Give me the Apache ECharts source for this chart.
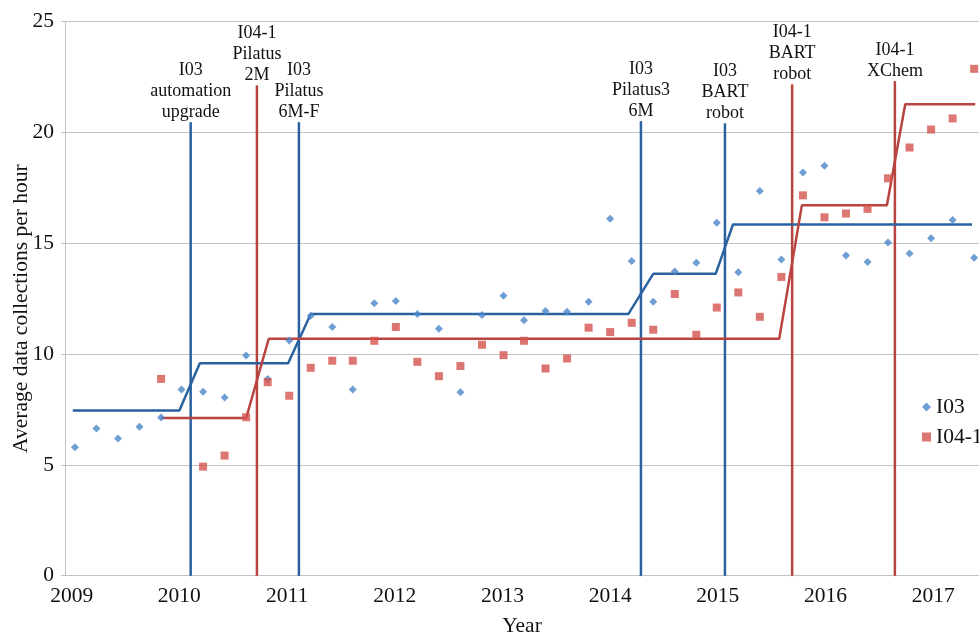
<!DOCTYPE html>
<html>
<head>
<meta charset="utf-8">
<script src="https://cdn.jsdelivr.net/npm/echarts@6/dist/echarts.min.js"></script>
<style>
  html, body { margin: 0; padding: 0; background: #fff; }
  #chart { width: 979px; height: 634px; }
</style>
</head>
<body>
<div id="chart"></div>
<script>
// Decimal-year date of each run (five runs per year)
const runDates = [
  2009.03, 2009.23, 2009.43, 2009.63, 2009.83,
  2010.02, 2010.22, 2010.42, 2010.62, 2010.82,
  2011.02, 2011.22, 2011.42, 2011.61, 2011.81,
  2012.01, 2012.21, 2012.41, 2012.61, 2012.81,
  2013.01, 2013.20, 2013.40, 2013.60, 2013.80,
  2014.00, 2014.20, 2014.40, 2014.60, 2014.80,
  2014.99, 2015.19, 2015.39, 2015.59, 2015.79,
  2015.99, 2016.19, 2016.39, 2016.58, 2016.78,
  2016.98, 2017.18, 2017.38
];

// Average data collections per hour, per run
const i03Rate = [
  5.80, 6.64, 6.19, 6.72, 7.14,
  8.40, 8.30, 8.04, 9.94, 8.87,
  10.61, 11.73, 11.22, 8.40, 12.29,
  12.39, 11.81, 11.14, 8.28, 11.76,
  12.63, 11.52, 11.94, 11.91, 12.36,
  16.10, 14.20, 12.36, 13.72, 14.12,
  15.92, 13.69, 17.36, 14.27, 18.19,
  18.50, 14.45, 14.15, 15.03, 14.54,
  15.22, 16.05, 14.34
];
const i041Rate = [
  null, null, null, null, 8.88,
  null, 4.92, 5.42, 7.15, 8.73,
  8.12, 9.38, 9.70, 9.70, 10.60,
  11.22, 9.65, 9.00, 9.46, 10.42,
  9.95, 10.60, 9.35, 9.80, 11.19,
  10.99, 11.41, 11.10, 12.71, 10.87,
  12.10, 12.78, 11.68, 13.48, 17.16,
  16.17, 16.34, 16.55, 17.93, 19.32,
  20.13, 20.63, 22.87
];

// Period averages between upgrades (step outline)
const i03StepDates  = [2009.01, 2010.00, 2010.19, 2011.01, 2011.22, 2014.17, 2014.40, 2014.98, 2015.14, 2017.36];
const i03StepLevels = [7.45, 7.45, 9.59, 9.59, 11.81, 11.81, 13.62, 13.62, 15.84, 15.84];
const i041StepDates  = [2009.83, 2010.62, 2010.83, 2015.57, 2015.78, 2016.57, 2016.74, 2017.39];
const i041StepLevels = [7.11, 7.11, 10.69, 10.69, 16.71, 16.71, 21.27, 21.27];

// Upgrade events
const eventDates = [2010.105, 2010.72, 2011.11, 2014.286, 2015.066, 2015.69, 2016.644];
const eventBeamlines = ['I03', 'I04-1', 'I03', 'I03', 'I03', 'I04-1', 'I04-1'];
const eventLabels = [
  'I03\nautomation\nupgrade',
  'I04-1\nPilatus\n2M',
  'I03\nPilatus\n6M-F',
  'I03\nPilatus3\n6M',
  'I03\nBART\nrobot',
  'I04-1\nBART\nrobot',
  'I04-1\nXChem'
];
const eventTops = [20.46, 22.12, 20.46, 20.50, 20.40, 22.16, 22.31];

const yearTicks = [2009, 2010, 2011, 2012, 2013, 2014, 2015, 2016, 2017];

const FONT = '"Liberation Serif", "Times New Roman", serif';
const colors = {
  'I03':   { point: '#4a86c8', line: '#2a62a0' },
  'I04-1': { point: '#d4524d', line: '#b9443f' }
};

function pairs(xs, ys) {
  const out = [];
  xs.forEach((x, i) => { if (ys[i] != null) out.push([x, ys[i]]); });
  return out;
}

const eventSeries = eventDates.map((d, i) => ({
  type: 'line',
  name: 'event-' + i,
  silent: true,
  z: 2,
  symbol: 'circle',
  symbolSize: 1,
  showSymbol: true,
  itemStyle: { color: colors[eventBeamlines[i]].line },
  lineStyle: { color: colors[eventBeamlines[i]].line, width: 2.5 },
  data: [
    [d, 0],
    {
      value: [d, eventTops[i]],
      label: {
        show: true,
        position: 'top',
        distance: -1,
        formatter: eventLabels[i],
        fontFamily: FONT,
        fontSize: 18,
        lineHeight: 21,
        align: 'center',
        color: '#111'
      }
    }
  ],
  animation: false
}));

const chart = echarts.init(document.getElementById('chart'), null, { renderer: 'canvas' });

chart.setOption({
  animation: false,
  backgroundColor: '#ffffff',
  grid: {
    left: 65, right: 0, top: 21.6, bottom: 58.3,
    containLabel: false,
    outerBoundsMode: 'none'
  },
  legend: {
    data: ['I03', 'I04-1'],
    orient: 'vertical',
    left: 917,
    top: 391,
    itemWidth: 9,
    itemHeight: 9,
    itemGap: 8,
    textStyle: { fontFamily: FONT, fontSize: 21.5, color: '#111' }
  },
  xAxis: {
    type: 'value',
    min: 2008.938,
    max: 2017.425,
    name: 'Year',
    nameLocation: 'middle',
    nameGap: 40,
    nameMoveOverlap: false,
    nameTextStyle: { fontFamily: FONT, fontSize: 21.5, color: '#111' },
    axisLine: { show: true, lineStyle: { color: '#c4c4c4', width: 1 } },
    axisTick: { show: false },
    splitLine: { show: false },
    axisLabel: {
      customValues: yearTicks,
      formatter: v => String(Math.round(v)),
      margin: 10,
      fontFamily: FONT,
      fontSize: 21.5,
      color: '#111'
    }
  },
  yAxis: {
    type: 'value',
    min: 0,
    max: 25,
    interval: 5,
    name: 'Average data collections per hour',
    nameLocation: 'middle',
    nameGap: 33,
    nameMoveOverlap: false,
    nameTextStyle: {
      fontFamily: FONT, fontSize: 21.5, color: '#111',
      padding: [0, 20, 0, 0]
    },
    axisLine: { show: true, lineStyle: { color: '#c4c4c4', width: 1 } },
    axisTick: { show: true, length: 4, lineStyle: { color: '#c4c4c4' } },
    splitLine: { show: true, lineStyle: { color: '#c4c4c4', width: 1 } },
    axisLabel: { margin: 11, fontFamily: FONT, fontSize: 21.5, color: '#111' }
  },
  series: [
    ...eventSeries,
    {
      type: 'line',
      name: 'I03 average',
      silent: true,
      z: 3,
      symbol: 'none',
      lineStyle: { color: colors['I03'].line, width: 2.5 },
      data: pairs(i03StepDates, i03StepLevels)
    },
    {
      type: 'line',
      name: 'I04-1 average',
      silent: true,
      z: 3,
      symbol: 'none',
      lineStyle: { color: colors['I04-1'].line, width: 2.5 },
      data: pairs(i041StepDates, i041StepLevels)
    },
    {
      type: 'scatter',
      name: 'I03',
      z: 4,
      symbol: 'diamond',
      symbolSize: 8,
      itemStyle: { color: colors['I03'].point },
      data: pairs(runDates, i03Rate)
    },
    {
      type: 'scatter',
      name: 'I04-1',
      z: 4,
      symbol: 'rect',
      symbolSize: 8,
      itemStyle: { color: colors['I04-1'].point },
      data: pairs(runDates, i041Rate)
    }
  ]
});
</script>
</body>
</html>
